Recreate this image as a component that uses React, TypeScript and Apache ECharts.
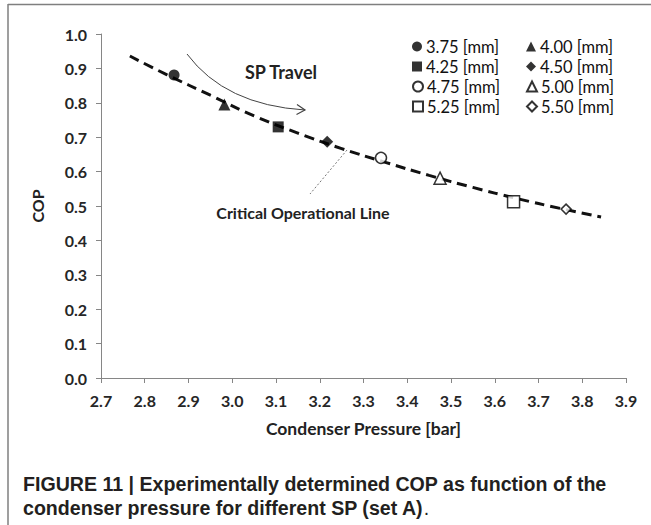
import React, { useEffect, useRef } from 'react';
import * as echarts from 'echarts';

// ---- data ----
const pointNames = ['3.75 [mm]', '4.00 [mm]', '4.25 [mm]', '4.50 [mm]', '4.75 [mm]', '5.00 [mm]', '5.25 [mm]', '5.50 [mm]'];
const pointX = [2.867, 2.982, 3.105, 3.217, 3.340, 3.475, 3.643, 3.763];
const pointY = [0.881, 0.795, 0.730, 0.687, 0.640, 0.581, 0.512, 0.491];
const pointSymbols = ['circle', 'triangle', 'rect', 'diamond', 'circle', 'triangle', 'rect', 'diamond'];
const pointFilled = [true, true, true, true, false, false, false, false];

const trendX = [2.766, 2.85, 2.95, 3.05, 3.15, 3.25, 3.35, 3.45, 3.55, 3.65, 3.75, 3.843];
const trendY = [0.936, 0.882, 0.822, 0.762, 0.712, 0.667, 0.627, 0.589, 0.554, 0.522, 0.493, 0.468];

const xMin = 2.7;
const xMax = 3.9;
const xStep = 0.1;
const yMin = 0;
const yMax = 1.0;
const yStep = 0.1;

const xTitle = 'Condenser Pressure [bar]';
const yTitle = 'COP';
const travelLabel = 'SP Travel';
const criticalLabel = 'Critical Operational Line';
const captionLine1 = 'FIGURE 11 | Experimentally determined COP as function of the';
const captionLine2 = 'condenser pressure for different SP (set A)';

const FONT = 'Lato, "Open Sans", sans-serif';
const CAP_FONT = '"Liberation Sans", Arial, sans-serif';

function symbolSize(sym: string, filled: boolean) {
  if (sym === 'circle') return 11;
  if (sym === 'triangle') return 12;
  if (sym === 'rect') return filled ? 11 : 12;
  return filled ? 12 : 10;
}

export default function App() {
  const ref = useRef<HTMLDivElement>(null);

  useEffect(() => {
    const chart = echarts.init(ref.current!, null, { renderer: 'svg' });

    const scatterSeries = pointNames.map((name, i) => ({
      name,
      type: 'scatter',
      z: 5,
      symbol: pointSymbols[i],
      symbolSize: symbolSize(pointSymbols[i], pointFilled[i]),
      itemStyle: pointFilled[i]
        ? { color: '#000', borderColor: '#000', borderWidth: 0 }
        : { color: '#fff', borderColor: '#000', borderWidth: 1.5 },
      data: [[pointX[i], pointY[i]]],
    }));

    const rowCenters = [48, 68, 88, 108];
    const legends = pointNames.map((name, i) => ({
      data: [name],
      left: i % 2 === 0 ? 412 : 526,
      top: rowCenters[Math.floor(i / 2)] - 10,
      padding: 0,
      itemWidth: 10,
      itemHeight: 10,
      itemGap: 0,
      selectedMode: false,
      textStyle: { fontFamily: FONT, fontSize: 16.5, color: '#111', padding: [0, 0, 0, -1] },
    }));

    const option: any = {
      animation: false,
      backgroundColor: '#fff',
      grid: { left: 101, right: 25, top: 34, bottom: 147, containLabel: false },
      xAxis: {
        type: 'value',
        min: xMin,
        max: xMax,
        interval: xStep,
        name: xTitle,
        nameLocation: 'middle',
        nameGap: 41,
        nameTextStyle: { fontFamily: FONT, fontSize: 17.5, fontWeight: 'bold', color: '#222' },
        axisLine: { show: true, lineStyle: { color: '#868686', width: 1 } },
        axisTick: { show: true, length: 5, lineStyle: { color: '#868686' } },
        splitLine: { show: false },
        axisLabel: {
          margin: 14,
          fontFamily: FONT,
          fontSize: 16,
          fontWeight: 'bold',
          color: '#262626',
          formatter: (v: number) => v.toFixed(1),
        },
      },
      yAxis: {
        type: 'value',
        min: yMin,
        max: yMax,
        interval: yStep,
        name: yTitle,
        nameLocation: 'middle',
        nameGap: 64,
        nameRotate: 90,
        nameTextStyle: { fontFamily: FONT, fontSize: 16, fontWeight: 'bold', color: '#222', align: 'center', verticalAlign: 'middle' },
        axisLine: { show: true, lineStyle: { color: '#868686', width: 1 } },
        axisTick: { show: true, length: 5, lineStyle: { color: '#868686' } },
        splitLine: { show: false },
        axisLabel: {
          margin: 14,
          fontFamily: FONT,
          fontSize: 16,
          fontWeight: 'bold',
          color: '#262626',
          formatter: (v: number) => v.toFixed(1),
        },
      },
      legend: legends,
      series: [
        {
          name: 'trend',
          type: 'line',
          z: 2,
          smooth: true,
          showSymbol: false,
          symbol: 'none',
          lineStyle: { color: '#111', width: 3, type: [10, 6] },
          data: trendX.map((x, i) => [x, trendY[i]]),
        },
        ...scatterSeries,
      ],
      graphic: [
        // frame
        { type: 'line', shape: { x1: 8, y1: 4.5, x2: 651, y2: 4.5 }, style: { stroke: '#7f7f7f', lineWidth: 1.5 } },
        { type: 'line', shape: { x1: 8, y1: 4, x2: 8, y2: 525 }, style: { stroke: '#7f7f7f', lineWidth: 1.5 } },
        // SP travel
        {
          type: 'text', x: 281, y: 72,
          style: { text: travelLabel, fontFamily: FONT, fontSize: 18, fontWeight: 'bold', fill: '#222', textAlign: 'center', textVerticalAlign: 'middle' },
        },
        {
          type: 'bezierCurve',
          shape: { x1: 187, y1: 54, cpx1: 225, cpy1: 105, x2: 305, y2: 110 },
          style: { stroke: '#444', lineWidth: 1, fill: null },
        },
        {
          type: 'polyline',
          shape: { points: [[297, 104.5], [305, 110], [296.5, 114.5]] },
          style: { stroke: '#444', lineWidth: 1.2, fill: null },
        },
        // critical line label
        {
          type: 'line',
          shape: { x1: 347, y1: 150, x2: 310, y2: 194 },
          style: { stroke: '#777', lineWidth: 1, lineDash: [2, 2] },
        },
        {
          type: 'text', x: 303, y: 212,
          style: { text: criticalLabel, fontFamily: FONT, fontSize: 16, fontWeight: 'bold', fill: '#222', textAlign: 'center', textVerticalAlign: 'middle' },
        },
        // caption
        {
          type: 'text', x: 23, y: 484,
          style: { text: captionLine1, fontFamily: CAP_FONT, fontSize: 19.6, fontWeight: 'bold', fill: '#231f20', textAlign: 'left', textVerticalAlign: 'middle' },
        },
        {
          type: 'text', x: 23, y: 508,
          style: {
            text: '{b|' + captionLine2 + '}{r|.}',
            textAlign: 'left',
            textVerticalAlign: 'middle',
            rich: {
              b: { fontFamily: CAP_FONT, fontSize: 19.6, fontWeight: 'bold', fill: '#231f20', color: '#231f20' },
              r: { fontFamily: CAP_FONT, fontSize: 19.6, fontWeight: 'normal', fill: '#231f20', color: '#231f20' },
            },
          },
        },
      ],
    };

    chart.setOption(option);
    return () => chart.dispose();
  }, []);

  return (
    <div
      ref={ref}
      style={{ position: 'absolute', left: 0, top: 0, width: 651, height: 525, background: '#fff' }}
    />
  );
}
